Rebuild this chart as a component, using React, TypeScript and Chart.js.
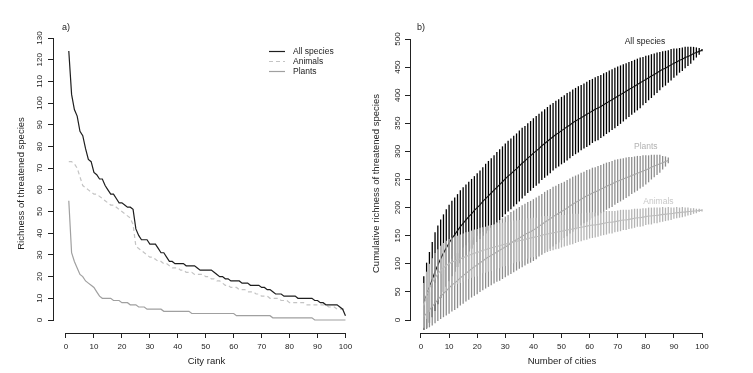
import React, { useEffect, useRef } from "react";
import { Chart, registerables } from "chart.js";

Chart.register(...registerables);

// ---------------- Panel a: richness by city rank ----------------
const cityRank: number[] = Array.from({ length: 100 }, (_, i) => i + 1);

const allSpeciesRichness = [
  124, 104, 97, 94, 87, 85, 79, 74, 73, 68,
  67, 65, 65, 62, 60, 58, 58, 56, 54, 54,
  53, 52, 52, 51, 42, 39, 37, 37, 37, 35,
  35, 35, 33, 31, 31, 29, 27, 27, 26, 26,
  26, 26, 25, 25, 25, 25, 24, 23, 23, 23,
  23, 23, 22, 21, 20, 20, 19, 19, 18, 18,
  18, 18, 17, 17, 17, 16, 16, 16, 16, 15,
  15, 14, 14, 13, 12, 12, 12, 11, 11, 11,
  11, 11, 10, 10, 10, 10, 10, 10, 9, 9,
  8, 8, 7, 7, 7, 7, 7, 6, 5, 2,
];

const animalRichness = [
  73, 73, 72, 70, 66, 62, 61, 60, 59, 58,
  58, 57, 56, 55, 54, 53, 53, 52, 51, 50,
  49, 48, 47, 44, 34, 33, 32, 31, 30, 29,
  29, 28, 27, 27, 26, 26, 25, 24, 24, 24,
  23, 23, 22, 22, 22, 21, 21, 21, 21, 20,
  20, 19, 19, 18, 18, 17, 16, 16, 15, 15,
  15, 14, 14, 14, 13, 13, 13, 12, 12, 11,
  11, 11, 10, 10, 10, 10, 9, 9, 9, 8,
  8, 8, 8, 8, 8, 7, 7, 7, 7, 7,
  7, 7, 7, 6, 6, 6, 5, 5, 5, 5,
];

const plantRichness = [
  55, 31, 27, 24, 21, 20, 18, 17, 16, 15,
  13, 11, 10, 10, 10, 10, 9, 9, 9, 8,
  8, 8, 7, 7, 7, 6, 6, 6, 5, 5,
  5, 5, 5, 5, 4, 4, 4, 4, 4, 4,
  4, 4, 4, 4, 3, 3, 3, 3, 3, 3,
  3, 3, 3, 3, 3, 3, 3, 3, 3, 3,
  2, 2, 2, 2, 2, 2, 2, 2, 2, 2,
  2, 2, 2, 1, 1, 1, 1, 1, 1, 1,
  1, 1, 1, 1, 1, 1, 1, 1, 0, 0,
  0, 0, 0, 0, 0, 0, 0, 0, 0, 0,
];

const rankTicks = [0, 10, 20, 30, 40, 50, 60, 70, 80, 90, 100];
const richnessTicks = [0, 10, 20, 30, 40, 50, 60, 70, 80, 90, 100, 110, 120, 130];

// ---------------- Panel b: accumulation curves ----------------
const numberOfCities: number[] = Array.from({ length: 100 }, (_, i) => i + 1);

const allSpeciesCumMean = [
  30, 44, 58, 72, 86, 98, 109, 119, 128, 137,
  145, 152, 159, 166, 172, 178, 184, 189, 195, 200,
  205, 211, 216, 221, 226, 231, 236, 241, 246, 251,
  256, 260, 265, 269, 274, 279, 283, 288, 292, 297,
  301, 305, 310, 314, 318, 322, 326, 330, 333, 337,
  340, 344, 347, 351, 354, 357, 360, 363, 366, 369,
  372, 375, 377, 380, 383, 386, 389, 392, 395, 398,
  401, 404, 407, 410, 413, 416, 419, 422, 425, 428,
  431, 434, 437, 440, 443, 446, 448, 451, 454, 457,
  459, 462, 464, 467, 469, 471, 474, 476, 478, 480,
];
const allSpeciesCumSd = [
  48, 58, 63, 67, 70, 70, 70, 69, 69, 68,
  67, 66, 65, 65, 64, 63, 62, 62, 61, 61,
  61, 61, 62, 62, 62, 62, 63, 63, 63, 63,
  63, 63, 63, 63, 63, 63, 62, 62, 62, 62,
  62, 62, 61, 61, 61, 61, 60, 60, 60, 60,
  60, 60, 59, 59, 59, 59, 58, 58, 58, 58,
  57, 57, 57, 56, 56, 55, 55, 54, 54, 53,
  52, 51, 50, 49, 48, 47, 46, 45, 43, 42,
  40, 39, 37, 36, 34, 32, 31, 29, 28, 26,
  24, 22, 21, 19, 17, 15, 12, 9, 6, 2,
];

const plantCumMean = [
  6, 12, 18, 24, 30, 36, 42, 47, 52, 57,
  62, 66, 70, 75, 79, 83, 87, 91, 95, 98,
  102, 105, 109, 112, 115, 118, 121, 124, 127, 130,
  133, 137, 140, 143, 146, 149, 152, 155, 157, 160,
  163, 167, 170, 174, 177, 180, 184, 187, 190, 193,
  196, 199, 203, 206, 209, 212, 215, 218, 221, 223,
  226, 228, 230, 233, 235, 238, 240, 242, 245, 247,
  249, 251, 253, 255, 257, 259, 261, 263, 265, 267,
  269, 272, 274, 276, 278, 280, 282, 284,
];
const plantCumSd = [
  24, 28, 31, 34, 36, 38, 40, 42, 44, 46,
  47, 48, 49, 49, 50, 50, 51, 51, 52, 52,
  52, 52, 53, 53, 53, 53, 53, 54, 54, 54,
  54, 55, 55, 55, 55, 55, 55, 55, 55, 55,
  55, 54, 54, 54, 54, 53, 53, 52, 52, 51,
  50, 50, 49, 49, 48, 47, 47, 46, 46, 45,
  45, 44, 44, 43, 43, 42, 41, 41, 40, 39,
  38, 37, 36, 35, 33, 32, 31, 29, 28, 26,
  24, 22, 20, 18, 16, 12, 9, 5,
];

const animalCumMean = [
  26, 44, 57, 67, 75, 82, 88, 93, 97, 100,
  103, 105, 107, 109, 111, 113, 115, 117, 119, 120,
  122, 124, 125, 127, 128, 130, 131, 132, 134, 135,
  136, 137, 139, 140, 141, 142, 143, 145, 146, 147,
  148, 149, 151, 152, 153, 154, 155, 156, 157, 158,
  159, 160, 161, 162, 163, 164, 165, 166, 167, 168,
  169, 169, 170, 171, 172, 173, 174, 174, 175, 176,
  177, 178, 178, 179, 180, 181, 182, 182, 183, 184,
  185, 185, 186, 186, 187, 188, 188, 189, 189, 190,
  191, 191, 192, 192, 193, 193, 194, 194, 195, 195,
];
const animalCumSd = [
  40, 42, 43, 43, 44, 44, 44, 44, 44, 44,
  44, 44, 43, 43, 43, 43, 42, 42, 42, 42,
  42, 41, 41, 41, 41, 40, 40, 40, 39, 39,
  39, 38, 38, 37, 37, 37, 36, 36, 35, 35,
  34, 34, 33, 33, 32, 31, 31, 30, 30, 29,
  28, 28, 27, 27, 26, 25, 25, 24, 24, 23,
  23, 22, 22, 21, 21, 21, 20, 20, 19, 19,
  19, 18, 18, 17, 17, 17, 16, 16, 16, 15,
  15, 15, 14, 14, 13, 13, 12, 12, 11, 10,
  10, 9, 9, 8, 7, 6, 5, 4, 3, 2,
];

const cityTicks = [0, 10, 20, 30, 40, 50, 60, 70, 80, 90, 100];
const cumulativeTicks = [0, 50, 100, 150, 200, 250, 300, 350, 400, 450, 500];

// ---------------- styling helpers ----------------
const FONT = '"Liberation Sans", Arial, Helvetica, sans-serif';
const INK = "#222222";

Chart.defaults.font.family = FONT;
Chart.defaults.color = INK;

function fixedTicks(values: number[]) {
  return (scale: any) => {
    scale.ticks = values.map((v) => ({ value: v }));
  };
}

function xAxis(min: number, max: number, ticks: number[], title: string) {
  return {
    type: "linear",
    min,
    max,
    offset: false,
    afterBuildTicks: fixedTicks(ticks),
    afterFit: (s: any) => {
      s.height = 40;
    },
    grid: {
      display: true,
      drawOnChartArea: false,
      drawTicks: true,
      tickLength: 5,
      color: INK,
      lineWidth: 1,
      offset: false,
    },
    border: { display: false },
    ticks: {
      autoSkip: false,
      maxRotation: 0,
      minRotation: 0,
      padding: 4,
      color: INK,
      font: { size: 8, family: FONT },
    },
    title: {
      display: true,
      text: title,
      color: INK,
      font: { size: 9.5, family: FONT },
      padding: { top: 0, bottom: 6 },
    },
  };
}

function yAxis(
  min: number,
  max: number,
  ticks: number[],
  title: string,
  width: number,
  labelPad: number,
  titlePad: number
) {
  return {
    type: "linear",
    min,
    max,
    afterBuildTicks: fixedTicks(ticks),
    afterFit: (s: any) => {
      s.width = width;
    },
    grid: {
      display: true,
      drawOnChartArea: false,
      drawTicks: true,
      tickLength: 5,
      color: INK,
      lineWidth: 1,
    },
    border: { display: false },
    ticks: {
      autoSkip: false,
      minRotation: 90,
      maxRotation: 90,
      crossAlign: "center",
      padding: labelPad,
      color: INK,
      font: { size: 8, family: FONT },
    },
    title: {
      display: true,
      text: title,
      color: INK,
      font: { size: 9.5, family: FONT },
      padding: { top: titlePad, bottom: 0 },
    },
  };
}

// R-style axis lines spanning only from the first to the last tick
const rAxisLines = {
  id: "rAxisLines",
  afterDraw(chart: any) {
    const { ctx, scales } = chart;
    const al = (p: number) => Math.round(p - 0.5) + 0.5;
    const xs = scales.x;
    const ys = scales.y;
    ctx.save();
    ctx.strokeStyle = INK;
    ctx.lineWidth = 1;
    ctx.beginPath();
    const x0 = xs.getPixelForValue(xs.ticks[0].value);
    const x1 = xs.getPixelForValue(xs.ticks[xs.ticks.length - 1].value);
    const yb = al(xs.top);
    ctx.moveTo(al(x0) - 0.5, yb);
    ctx.lineTo(al(x1) + 0.5, yb);
    const y0 = ys.getPixelForValue(ys.ticks[0].value);
    const y1 = ys.getPixelForValue(ys.ticks[ys.ticks.length - 1].value);
    const xl = al(ys.right);
    ctx.moveTo(xl, al(y0) + 0.5);
    ctx.lineTo(xl, al(y1) - 0.5);
    ctx.stroke();
    ctx.restore();
  },
};

function annotations(cfg: any) {
  return {
    id: "annotations",
    afterDraw(chart: any) {
      const { ctx, chartArea, scales } = chart;
      ctx.save();
      ctx.textBaseline = "middle";
      ctx.textAlign = "left";
      ctx.font = `9px ${FONT}`;
      ctx.fillStyle = INK;
      ctx.fillText(cfg.tag, chartArea.left + cfg.tagDx, chartArea.top + cfg.tagDy);
      if (cfg.legend) {
        const { dxLine0, dxLine1, dxText, dy0, rowGap } = cfg.legend;
        chart.data.datasets.forEach((ds: any, i: number) => {
          const y = Math.round(chartArea.top + dy0 + i * rowGap) + 0.5;
          ctx.strokeStyle = ds.borderColor;
          ctx.lineWidth = ds.borderWidth;
          ctx.setLineDash(ds.borderDash || []);
          ctx.beginPath();
          ctx.moveTo(chartArea.right + dxLine0, y);
          ctx.lineTo(chartArea.right + dxLine1, y);
          ctx.stroke();
          ctx.setLineDash([]);
          ctx.font = `8.5px ${FONT}`;
          ctx.fillStyle = INK;
          ctx.textAlign = "left";
          ctx.fillText(ds.label, chartArea.right + dxText, y);
        });
      }
      (cfg.curveLabels || []).forEach((l: any) => {
        ctx.font = `8.5px ${FONT}`;
        ctx.fillStyle = l.color;
        ctx.textAlign = "center";
        ctx.fillText(l.text, scales.x.getPixelForValue(l.x), scales.y.getPixelForValue(l.y));
      });
      ctx.restore();
    },
  };
}

function barsFrom(xs: number[], mean: number[], sd: number[]) {
  return mean.map((m, i) => ({ x: xs[i], y: [m - sd[i], m + sd[i]] }));
}
function pointsFrom(xs: number[], ys: number[]) {
  return ys.map((v, i) => ({ x: xs[i], y: v }));
}

export default function App() {
  const refA = useRef<HTMLCanvasElement>(null);
  const refB = useRef<HTMLCanvasElement>(null);

  useEffect(() => {
    const chartA = new Chart(refA.current as HTMLCanvasElement, {
      type: "line",
      data: {
        datasets: [
          {
            label: "All species",
            data: pointsFrom(cityRank, allSpeciesRichness),
            borderColor: "#1e1e1e",
            borderWidth: 1.2,
            pointRadius: 0,
            tension: 0,
          },
          {
            label: "Animals",
            data: pointsFrom(cityRank, animalRichness),
            borderColor: "#c4c4c4",
            borderWidth: 1.2,
            borderDash: [4, 3],
            pointRadius: 0,
            tension: 0,
          },
          {
            label: "Plants",
            data: pointsFrom(cityRank, plantRichness),
            borderColor: "#a0a0a0",
            borderWidth: 1.2,
            pointRadius: 0,
            tension: 0,
          },
        ],
      } as any,
      options: {
        responsive: false,
        animation: false,
        devicePixelRatio: 1,
        events: [],
        layout: { padding: { top: 34, right: 5, left: 0, bottom: 0 } },
        plugins: { legend: { display: false }, tooltip: { enabled: false } },
        scales: {
          x: xAxis(-4.65, 105.2, rankTicks, "City rank"),
          y: yAxis(-5.99, 131.85, richnessTicks, "Richness of threatened species", 53, 1.3, 16),
        } as any,
      },
      plugins: [
        rAxisLines,
        annotations({
          tag: "a)",
          tagDx: 9,
          tagDy: -6,
          legend: { dxLine0: -91, dxLine1: -75, dxText: -67, dy0: 16.7, rowGap: 10 },
        }),
      ],
    } as any);

    const barCommon = {
      type: "bar",
      grouped: false,
      barThickness: 1.3,
      borderWidth: 0,
      inflateAmount: 0,
    };
    const lineCommon = { type: "line", pointRadius: 0, tension: 0 };

    const chartB = new Chart(refB.current as HTMLCanvasElement, {
      type: "bar",
      data: {
        datasets: [
          {
            ...barCommon,
            label: "All species",
            data: barsFrom(numberOfCities, allSpeciesCumMean, allSpeciesCumSd),
            backgroundColor: "#000000",
            order: 6,
          },
          {
            ...lineCommon,
            label: "All species mean",
            data: pointsFrom(numberOfCities, allSpeciesCumMean),
            borderColor: "#111111",
            borderWidth: 1.1,
            order: 5,
          },
          {
            ...barCommon,
            label: "Plants",
            data: barsFrom(numberOfCities, plantCumMean, plantCumSd),
            backgroundColor: "#8e8e8e",
            order: 4,
          },
          {
            ...lineCommon,
            label: "Plants mean",
            data: pointsFrom(numberOfCities, plantCumMean),
            borderColor: "#a8a8a8",
            borderWidth: 1.1,
            order: 3,
          },
          {
            ...barCommon,
            label: "Animals",
            data: barsFrom(numberOfCities, animalCumMean, animalCumSd),
            backgroundColor: "#b4b4b4",
            order: 2,
          },
          {
            ...lineCommon,
            label: "Animals mean",
            data: pointsFrom(numberOfCities, animalCumMean),
            borderColor: "#bdbdbd",
            borderWidth: 1.1,
            order: 1,
          },
        ],
      } as any,
      options: {
        responsive: false,
        animation: false,
        devicePixelRatio: 1,
        events: [],
        layout: { padding: { top: 34, right: 39, left: 0, bottom: 0 } },
        plugins: { legend: { display: false }, tooltip: { enabled: false } },
        scales: {
          x: xAxis(-3.91, 104.27, cityTicks, "Number of cities"),
          y: yAxis(-23.13, 508.9, cumulativeTicks, "Cumulative richness of threatened species", 45, 0.4, 5.3),
        } as any,
      },
      plugins: [
        rAxisLines,
        annotations({
          tag: "b)",
          tagDx: 7,
          tagDy: -6.5,
          curveLabels: [
            { text: "All species", x: 79.7, y: 496, color: "#222222" },
            { text: "Plants", x: 80, y: 309, color: "#b2b2b2" },
            { text: "Animals", x: 84.5, y: 210, color: "#c8c8c8" },
          ],
        }),
      ],
    } as any);

    return () => {
      chartA.destroy();
      chartB.destroy();
    };
  }, []);

  return (
    <div
      style={{
        position: "fixed",
        left: 0,
        top: 0,
        width: 753,
        height: 373,
        background: "#ffffff",
        overflow: "hidden",
      }}
    >
      <canvas
        ref={refA}
        width={365}
        height={373}
        style={{ position: "absolute", left: 0, top: 0, width: 365, height: 373 }}
      />
      <canvas
        ref={refB}
        width={388}
        height={373}
        style={{ position: "absolute", left: 365, top: 0, width: 388, height: 373 }}
      />
    </div>
  );
}
